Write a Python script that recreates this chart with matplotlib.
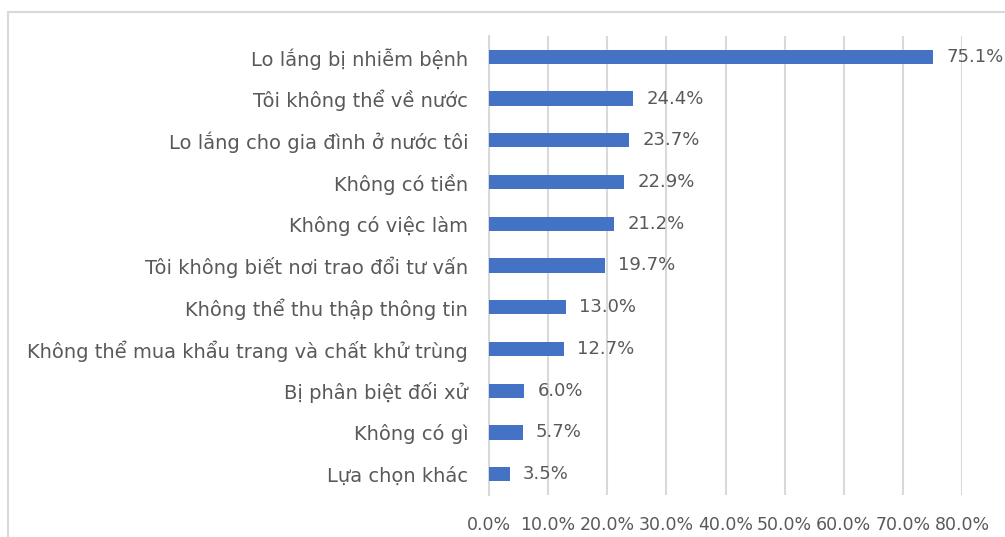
import matplotlib.pyplot as plt
from matplotlib.patches import Rectangle

labels = [
    "Lo lắng bị nhiễm bệnh",
    "Tôi không thể về nước",
    "Lo lắng cho gia đình ở nước tôi",
    "Không có tiền",
    "Không có việc làm",
    "Tôi không biết nơi trao đổi tư vấn",
    "Không thể thu thập thông tin",
    "Không thể mua khẩu trang và chất khử trùng",
    "Bị phân biệt đối xử",
    "Không có gì",
    "Lựa chọn khác",
]
values = [75.1, 24.4, 23.7, 22.9, 21.2, 19.7, 13.0, 12.7, 6.0, 5.7, 3.5]
ticks = [0, 10, 20, 30, 40, 50, 60, 70, 80]

plt.rcParams["font.family"] = ["DejaVu Sans"]
text_color = "#595959"
grid_color = "#d9d9d9"

fig = plt.figure(figsize=(10.05, 5.37), dpi=100)
ax = fig.add_axes([489 / 1005, 1 - 495 / 537, (962 - 489) / 1005, (495 - 36) / 537])

# outer chart frame
fig.patches.append(Rectangle((8 / 1005, -0.2), 1.2, 1.2 - 12 / 537,
                             transform=fig.transFigure, fill=False,
                             edgecolor=grid_color, linewidth=1.5))

pos = list(range(len(labels)))[::-1]
ax.barh(pos, values, height=0.34, color="#4472c4", zorder=3)
for p, v in zip(pos, values):
    ax.text(v + 2.2, p, f"{v:.1f}%", va="center", ha="left",
            fontsize=13, color=text_color)

ax.set_xlim(0, 80)
ax.set_ylim(-0.5, len(labels) - 0.5)
ax.set_xticks(ticks)
ax.set_xticklabels([f"{t:.1f}%" for t in ticks], fontsize=12.5, color=text_color)
ax.set_yticks(pos)
ax.set_yticklabels(labels, fontsize=14, color=text_color)
ax.tick_params(axis="both", length=0)
ax.tick_params(axis="x", pad=15)
ax.tick_params(axis="y", pad=15)
ax.grid(axis="x", color=grid_color, linewidth=1.5, zorder=0)
for s in ["top", "right", "bottom"]:
    ax.spines[s].set_visible(False)
ax.spines["left"].set_color(grid_color)
ax.spines["left"].set_linewidth(1.5)

fig.savefig("out.png", dpi=100)
